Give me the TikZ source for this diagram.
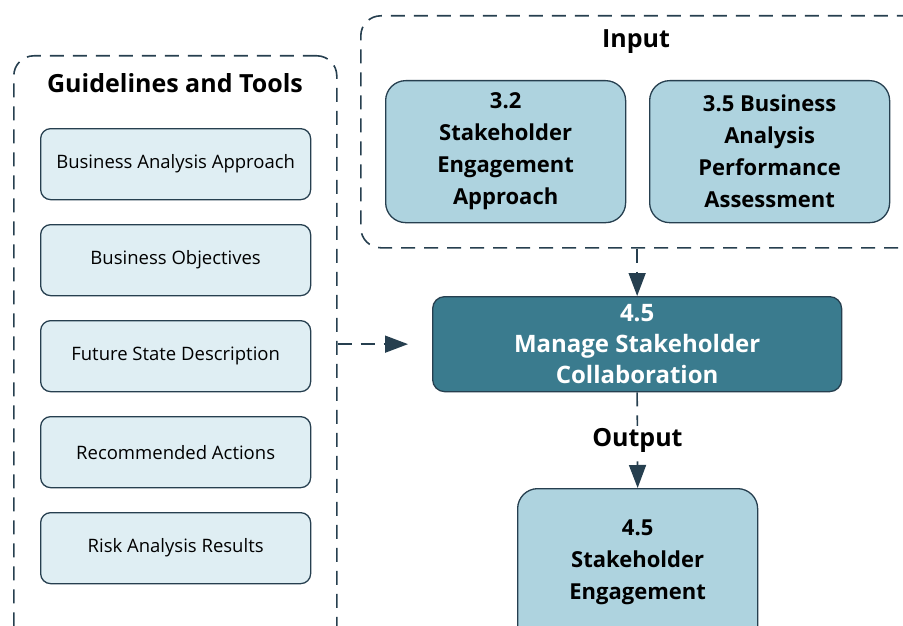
\documentclass[tikz,border=0pt]{standalone}
\usepackage{fontspec}
\setmainfont{Open Sans}
\usetikzlibrary{positioning,arrows.meta}

\definecolor{lineblue}{HTML}{263F4F}
\definecolor{toolfill}{HTML}{DFEEF3}
\definecolor{inputfill}{HTML}{AED3DF}
\definecolor{taskfill}{HTML}{3A7B8E}

\tikzset{
  group/.style={draw=lineblue, line width=1.6pt, dash pattern=on 14pt off 9pt, rounded corners=20pt, anchor=north west, inner sep=0pt},
  tool/.style={draw=lineblue, line width=1.3pt, fill=toolfill, rounded corners=10pt, minimum width=270pt, minimum height=71pt, anchor=north west, font=\fontsize{18.5}{22}\selectfont},
  ioput/.style={draw=lineblue, line width=1.3pt, fill=inputfill, rounded corners=20pt, minimum width=240pt, minimum height=142pt, anchor=north west, align=center, font=\fontsize{22}{32}\selectfont\bfseries},
  heading/.style={font=\fontsize{25}{30}\selectfont\bfseries},
  flow/.style={draw=lineblue, line width=1.6pt, dash pattern=on 14pt off 9pt, -{Triangle[length=23pt,width=17pt]}}
}

\begin{document}
\begin{tikzpicture}[x=1pt, y=-1pt]
\useasboundingbox (0,0) rectangle (903,626);
\clip (0,0) rectangle (903,626);

%dashed groups
\node[group, minimum width=323pt, minimum height=620pt] (guide) at (13,55) {};
\node[group, minimum width=570pt, minimum height=232pt] (inbox) at (360,15) {};
\node[heading] (guidetitle) at (175,83) {Guidelines and Tools};
\node[heading] (intitle) at (636,42) {Input};

%guidelines and tools
\node[tool] (approach) at (40,128) {Business Analysis Approach};
\node[tool] (objectives) at (40,224) {Business Objectives};
\node[tool] (future) at (40,320) {Future State Description};
\node[tool] (actions) at (40,416) {Recommended Actions};
\node[tool] (risk) at (40,512) {Risk Analysis Results};

%inputs
\node[ioput] (engapproach) at (385,80) {3.2\\Stakeholder\\Engagement\\Approach};
\node[ioput] (perf) at (649,80) {3.5 Business\\Analysis\\Performance\\Assessment};

%task
\node[draw=lineblue, line width=1.3pt, fill=taskfill, rounded corners=12pt, minimum width=409pt, minimum height=95pt, anchor=north west, align=center, text=white, font=\fontsize{24}{31}\selectfont\bfseries] (task) at (432,296) {4.5\\Manage Stakeholder\\Collaboration};

%output
\node[ioput, minimum height=170pt] (engagement) at (517,488) {4.5\\Stakeholder\\Engagement\\[-4pt]};

%connectors
\draw[flow] (inbox.south -| task) -- (task.north);
\draw[flow, shorten >=24pt] (guide.east |- task) -- (task.west);
\draw[flow] (task.south) -- (engagement.north) node[midway, fill=white, inner sep=2pt, heading] (outlabel) {Output};
\end{tikzpicture}
\end{document}
